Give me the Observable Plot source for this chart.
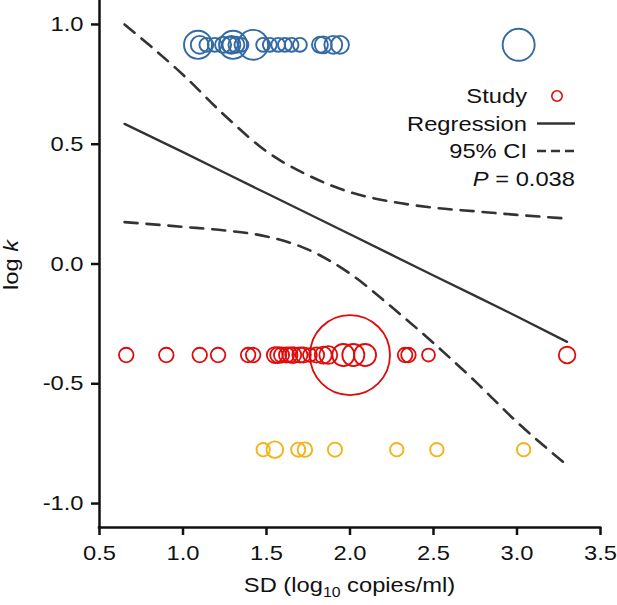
<!DOCTYPE html>
<html><head><meta charset="utf-8">
<script src="https://cdn.jsdelivr.net/npm/d3@7"></script>
<script src="https://cdn.jsdelivr.net/npm/@observablehq/plot@0.6"></script>
<style>
body{margin:0;background:#fff;font-family:"Liberation Sans",Arial,sans-serif}
#chart{position:relative;width:617px;height:605px}
</style>
</head><body><div id="chart"></div>
<script>
// ---- data ----
const blueY = 0.915;
const blueX = [1.09, 1.10, 1.14, 1.19, 1.24, 1.28, 1.29, 1.30, 1.32, 1.35, 1.42, 1.48, 1.52, 1.57, 1.61, 1.65, 1.70, 1.82, 1.84, 1.90, 1.94, 3.01];
const blueW = [12.3, 5.0, 3.0, 3.0, 4.0, 4.0, 5.0, 12.3, 4.0, 3.0, 14.0, 3.0, 3.0, 3.0, 3.0, 3.0, 3.0, 4.0, 4.5, 5.0, 5.0, 16.0];

const redY = -0.38;
const redX = [0.66, 0.90, 1.10, 1.21, 1.39, 1.42, 1.55, 1.57, 1.59, 1.62, 1.64, 1.66, 1.70, 1.72, 1.76, 1.80, 1.84, 1.87, 1.96, 2.00, 2.02, 2.09, 2.33, 2.35, 2.47, 3.30];
const redW = [3.3, 3.3, 3.3, 3.3, 3.3, 3.3, 4.0, 4.0, 3.6, 3.6, 3.6, 4.0, 3.6, 3.6, 3.0, 3.6, 4.5, 5.0, 7.6, 100, 7.6, 7.6, 3.3, 3.3, 2.6, 4.3];

const yellowY = -0.775;
const yellowX = [1.48, 1.55, 1.69, 1.73, 1.91, 2.28, 2.52, 3.04];
const yellowW = [2.8, 4.3, 3.1, 3.3, 3.1, 2.8, 2.8, 2.8];

const lineX   = [0.65, 1.00, 1.25, 1.50, 1.75, 2.00, 2.25, 2.50, 2.75, 3.00, 3.30];
const regY    = [0.585, 0.467, 0.381, 0.295, 0.21, 0.124, 0.038, -0.048, -0.133, -0.219, -0.325];
const ciUpper = [1.00, 0.79, 0.62, 0.47, 0.37, 0.30, 0.26, 0.235, 0.22, 0.205, 0.19];
const ciLower = [0.175, 0.155, 0.14, 0.115, 0.06, -0.04, -0.18, -0.33, -0.49, -0.66, -0.84];

const xTicks = [0.5, 1.0, 1.5, 2.0, 2.5, 3.0, 3.5];
const yTicks = [-1.0, -0.5, 0.0, 0.5, 1.0];

const legendLabels = ["Study", "Regression", "95% CI"];
const pLabel = "0.038";

// ---- build tables ----
const toRows = (xs, ws, y) => xs.map((x, i) => ({x, y, w: ws[i]}));
const blue = toRows(blueX, blueW, blueY);
const red = toRows(redX, redW, redY);
const yellow = toRows(yellowX, yellowW, yellowY);
const reg = lineX.map((x, i) => ({x, y: regY[i]}));
const up = lineX.map((x, i) => ({x, y: ciUpper[i]}));
const lo = lineX.map((x, i) => ({x, y: ciLower[i]}));

const C_BLUE = "#336aa3", C_RED = "#e00b0b", C_YEL = "#f5b31a", C_LINE = "#333333", C_AX = "#111";
const FONT = '"Liberation Sans", Arial, sans-serif';
const SX = 1.13; // horizontal text stretch seen in the reference

const fmt = d => d.toFixed(1);

const plot = Plot.plot({
  width: 617, height: 605,
  marginLeft: 99, marginRight: 17, marginTop: 0, marginBottom: 78,
  style: {fontFamily: FONT, fontSize: "21px", color: C_AX, background: "#fff", overflow: "visible"},
  x: {domain: [0.5, 3.5]},
  y: {domain: [-1.1, 1.1]},
  r: {type: "sqrt", domain: [0, 100], range: [0, 40]},
  marks: [
    Plot.axisX({ticks: xTicks, tickFormat: fmt, tickSize: 8, tickPadding: 10, strokeWidth: 2.5, label: null, fontSize: 21}),
    Plot.axisY({ticks: yTicks, tickFormat: fmt, tickSize: 8, tickPadding: 8, strokeWidth: 2.5, label: null, fontSize: 21}),
    Plot.ruleX([0.5], {stroke: C_AX, strokeWidth: 2.5, strokeLinecap: "square"}),
    Plot.ruleY([-1.1], {stroke: C_AX, strokeWidth: 2.5, strokeLinecap: "square"}),
    Plot.dot(blue, {x: "x", y: "y", r: "w", stroke: C_BLUE, strokeWidth: 1.9, fill: "none"}),
    Plot.dot(red, {x: "x", y: "y", r: "w", stroke: C_RED, strokeWidth: 1.8, fill: "none"}),
    Plot.dot(yellow, {x: "x", y: "y", r: "w", stroke: C_YEL, strokeWidth: 1.9, fill: "none"}),
    Plot.line(reg, {x: "x", y: "y", stroke: C_LINE, strokeWidth: 2.3, curve: "linear"}),
    Plot.line(up, {x: "x", y: "y", stroke: C_LINE, strokeWidth: 2.6, strokeDasharray: "13,9", curve: "monotone-x"}),
    Plot.line(lo, {x: "x", y: "y", stroke: C_LINE, strokeWidth: 2.6, strokeDasharray: "13,9", curve: "monotone-x"})
  ]
});

document.getElementById("chart").appendChild(plot);
const svg = d3.select(plot);

// stretch the tick labels horizontally like the reference font
svg.selectAll("text").each(function() {
  const t = this.getAttribute("transform") || "";
  this.setAttribute("transform", (t + " scale(" + SX + ",1)").trim());
});

// axis titles
const xt = svg.append("text")
  .attr("transform", `translate(${(99 + 600) / 2},592) scale(${SX},1)`)
  .attr("text-anchor", "middle").attr("font-size", 21).attr("fill", C_AX).attr("font-family", FONT);
xt.append("tspan").text("SD (log");
xt.append("tspan").attr("font-size", 14).attr("dy", 5).text("10");
xt.append("tspan").attr("dy", -5).text(" copies/ml)");

const yt = svg.append("text")
  .attr("transform", `translate(18,265) rotate(-90) scale(${SX},1)`)
  .attr("text-anchor", "middle").attr("font-size", 21).attr("fill", C_AX).attr("font-family", FONT);
yt.append("tspan").text("log ");
yt.append("tspan").attr("font-style", "italic").text("k");

// legend
const lg = svg.append("g").attr("font-family", FONT).attr("font-size", 21).attr("fill", C_AX);
const rowY = [96, 123.5, 151, 178.5];
legendLabels.forEach((lab, i) => {
  lg.append("text").attr("transform", `translate(527,${rowY[i]}) scale(${SX},1)`)
    .attr("text-anchor", "end").attr("dy", "0.35em").text(lab);
});
lg.append("circle").attr("cx", 557).attr("cy", rowY[0]).attr("r", 5.2)
  .attr("fill", "none").attr("stroke", C_RED).attr("stroke-width", 1.6);
lg.append("line").attr("x1", 537).attr("x2", 575).attr("y1", rowY[1]).attr("y2", rowY[1])
  .attr("stroke", C_LINE).attr("stroke-width", 2.6);
lg.append("line").attr("x1", 537).attr("x2", 575).attr("y1", rowY[2]).attr("y2", rowY[2])
  .attr("stroke", C_LINE).attr("stroke-width", 2.6).attr("stroke-dasharray", "9,5");
const pt = lg.append("text").attr("transform", `translate(575,${rowY[3]}) scale(${SX},1)`)
  .attr("text-anchor", "end").attr("dy", "0.35em");
pt.append("tspan").attr("font-style", "italic").text("P");
pt.append("tspan").text(" = " + pLabel);
</script>
</body></html>
